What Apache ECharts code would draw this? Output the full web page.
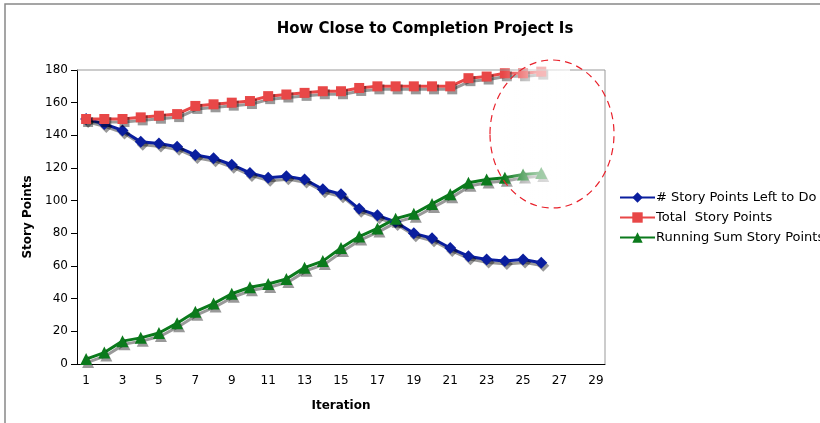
<!DOCTYPE html>
<html><head><meta charset="utf-8">
<script src="https://cdn.jsdelivr.net/npm/echarts@6/dist/echarts.min.js"></script>
<style>html,body{margin:0;padding:0;background:#fff}#c{width:820px;height:423px}</style>
</head><body><div id="c"></div>
<script>
const iterations = ['1','2','3','4','5','6','7','8','9','10','11','12','13','14','15','16','17','18','19','20','21','22','23','24','25','26','27','28','29'];
const leftToDo = [150,147,143,136,135,133,128,126,122,117,114,115,113,107,104,95,91,87,80,77,71,66,64,63,64,62];
const totalPoints = [150,150,150,151,152,153,158,159,160,161,164,165,166,167,167,169,170,170,170,170,170,175,176,178,178,179];
const runningSum = [3,7,14,16,19,25,32,37,43,47,49,52,59,63,71,78,83,89,92,98,104,111,113,114,116,117];

const chart = echarts.init(document.getElementById('c'));
const font = 'DejaVu Sans, Verdana, sans-serif';
const shadow = {shadowColor:'rgba(0,0,0,0.4)', shadowBlur:0, shadowOffsetX:2, shadowOffsetY:3};
function mk(name, data, color, symbol, size){
  return {name, type:'line', data, symbol, symbolSize:size, animation:false,
    lineStyle:Object.assign({color, width:3}, shadow),
    itemStyle:Object.assign({color}, shadow)};
}
chart.setOption({
  animation:false,
  title:{text:'How Close to Completion Project Is', left:420, top:17, textAlign:'center',
    textStyle:{fontFamily:font, fontSize:15, fontWeight:'bold', color:'#000'}},
  grid:{left:77, right:215, top:70, bottom:59},
  legend:{orient:'vertical', left:619, top:191, padding:0, itemWidth:35, itemHeight:13, itemGap:7,
    textStyle:{fontFamily:font, fontSize:13, color:'#000', padding:[0,0,0,-4]},
    data:['# Story Points Left to Do','Total  Story Points','Running Sum Story Points']},
  xAxis:{type:'category', data:iterations, boundaryGap:true, name:'Iteration', nameLocation:'middle', nameGap:36,
    nameTextStyle:{fontFamily:font, fontSize:12, fontWeight:'bold', color:'#000'},
    axisLine:{lineStyle:{color:'#000', width:1}}, axisTick:{length:5, lineStyle:{color:'#000'}},
    axisLabel:{interval:1, fontFamily:font, fontSize:12, color:'#000', margin:11}},
  yAxis:{type:'value', min:0, max:180, interval:20, name:'Story Points', nameLocation:'middle', nameGap:41,
    nameTextStyle:{fontFamily:font, fontSize:12, fontWeight:'bold', color:'#000'},
    axisLine:{show:true, lineStyle:{color:'#000', width:1}}, axisTick:{show:true, length:6, lineStyle:{color:'#000'}},
    splitLine:{show:false},
    axisLabel:{fontFamily:font, fontSize:12, color:'#000', margin:9}},
  series:[
    mk('# Story Points Left to Do', leftToDo, '#0A1E9E', 'diamond', 12),
    mk('Total  Story Points', totalPoints, '#E84747', 'rect', 10),
    mk('Running Sum Story Points', runningSum, '#0B7A1C', 'triangle', 12)
  ],
  graphic:[
    {type:'rect', z:100, silent:true, shape:{x:5, y:4, width:830, height:430}, style:{fill:null, stroke:'#888', lineWidth:1.5}},
    {type:'line', z:100, silent:true, shape:{x1:77, y1:70, x2:605, y2:70}, style:{stroke:'#999', lineWidth:1}},
    {type:'line', z:100, silent:true, shape:{x1:605, y1:70, x2:605, y2:364}, style:{stroke:'#999', lineWidth:1}},
    {type:'rect', z:100, silent:true, shape:{x:503, y:55, width:67, height:150},
      style:{fill:new echarts.graphic.LinearGradient(0,0,1,0,[{offset:0,color:'rgba(255,255,255,0)'},{offset:0.5,color:'rgba(255,255,255,0.6)'},{offset:1,color:'rgba(255,255,255,0.7)'}])}},
    {type:'ellipse', z:101, silent:true, shape:{cx:552, cy:134, rx:62, ry:74},
      style:{fill:null, stroke:'#E8202A', lineWidth:1.2, lineDash:[7,5]}}
  ]
});
</script></body></html>
